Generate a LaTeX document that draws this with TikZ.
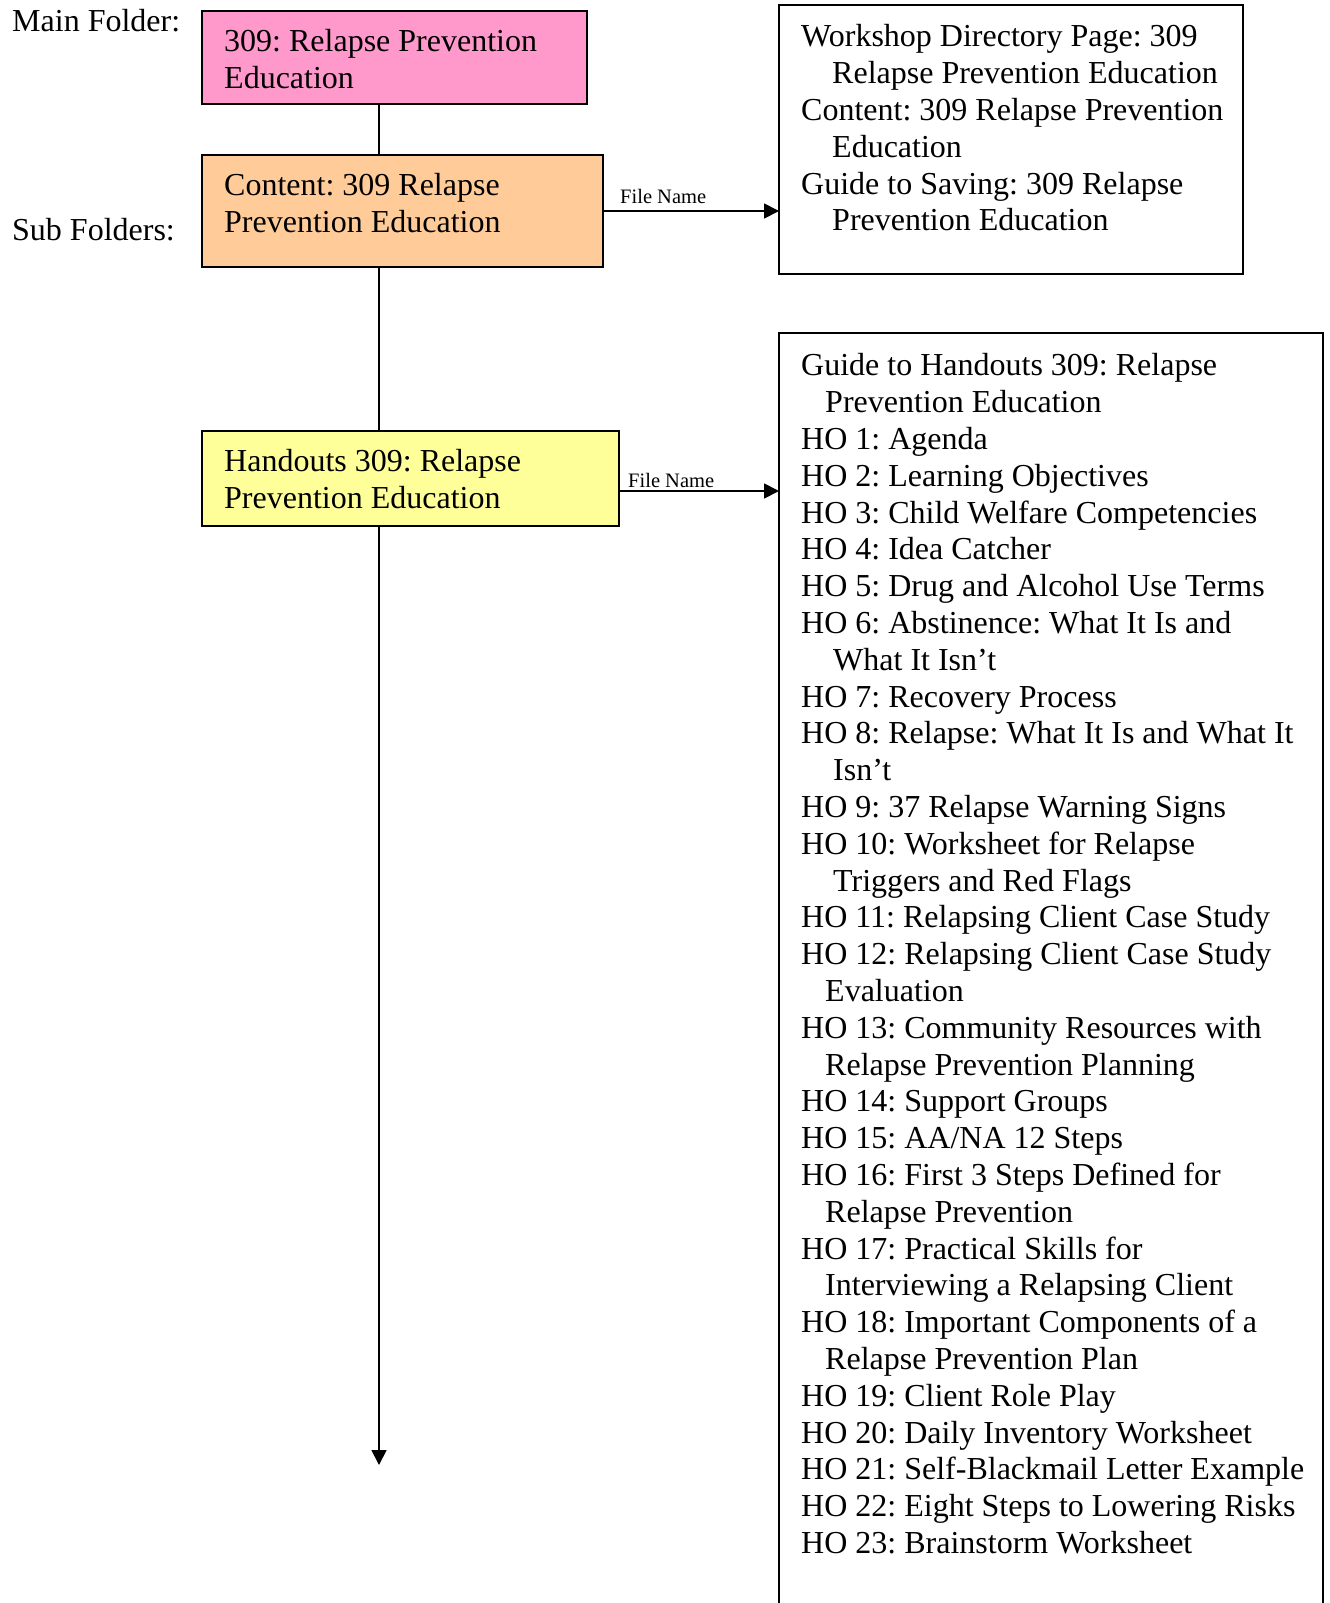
\documentclass[tikz,border=0pt]{standalone}
\usepackage{fontspec}
\setmainfont{Liberation Serif}
\usetikzlibrary{arrows.meta}
\definecolor{pinkfill}{HTML}{FF99CC}
\definecolor{orangefill}{HTML}{FFCC99}
\definecolor{yellowfill}{HTML}{FFFF99}
\newcommand{\ind}[1]{\hspace*{#1pt}}
\frenchspacing
\begin{document}
\begin{tikzpicture}[x=1pt,y=-1pt,
  box/.style={draw=black, line width=1.8pt, anchor=north west, inner sep=0pt, outer sep=0pt},
  txt/.style={anchor=north west, inner sep=0pt, align=left, font=\fontsize{32}{36.8}\selectfont\frenchspacing, execute at begin node=\strut},
  lbl/.style={anchor=base west, inner sep=0pt, font=\fontsize{20.5}{24}\selectfont},
  conn/.style={line width=1.8pt},
  arrowc/.style={line width=1.8pt, -{Triangle[length=15pt,width=15pt]}}]
\useasboundingbox (0,0) rectangle (1330,1603);
\clip (0,0) rectangle (1330,1603);
% side labels
\node[txt] (mainlbl) at (12,5.24) {Main Folder:};
\node[txt] (sublbl) at (12,214.2) {Sub Folders:};
% boxes
\node[box, fill=pinkfill, minimum width=385pt, minimum height=93pt] (mainbox) at (202,11) {};
\node[box, fill=orangefill, minimum width=401pt, minimum height=112pt] (contentbox) at (202,155) {};
\node[box, fill=yellowfill, minimum width=417pt, minimum height=95pt] (handbox) at (202,431) {};
\node[box, fill=white, minimum width=464pt, minimum height=269pt] (workbox) at (779,5) {};
\node[box, fill=white, minimum width=544pt, minimum height=1320pt] (hobox) at (779,333) {};
% box texts
\node[txt] (maintxt) at (224,29) {309: Relapse Prevention\\Education};
\node[txt] (contenttxt) at (224,173) {Content: 309 Relapse\\Prevention Education};
\node[txt] (handtxt) at (224,449) {Handouts 309: Relapse\\Prevention Education};
\node[txt] (worktxt) at (801,24.5) {Workshop Directory Page: 309\\
\ind{31}Relapse Prevention Education\\
Content: 309 Relapse Prevention\\
\ind{31}Education\\
Guide to Saving: 309 Relapse\\
\ind{31}Prevention Education};
\node[txt] (hotxt) at (801,353.5) {Guide to Handouts 309: Relapse\\
\ind{24}Prevention Education\\
HO 1: Agenda\\
HO 2: Learning Objectives\\
HO 3: Child Welfare Competencies\\
HO 4: Idea Catcher\\
HO 5: Drug and Alcohol Use Terms\\
HO 6: Abstinence: What It Is and\\
\ind{32}What It Isn’t\\
HO 7: Recovery Process\\
HO 8: Relapse: What It Is and What It\\
\ind{32}Isn’t\\
HO 9: 37 Relapse Warning Signs\\
HO 10: Worksheet for Relapse\\
\ind{32}Triggers and Red Flags\\
HO 11: Relapsing Client Case Study\\
HO 12: Relapsing Client Case Study\\
\ind{24}Evaluation\\
HO 13: Community Resources with\\
\ind{24}Relapse Prevention Planning\\
HO 14: Support Groups\\
HO 15: AA/NA 12 Steps\\
HO 16: First 3 Steps Defined for\\
\ind{24}Relapse Prevention\\
HO 17: Practical Skills for\\
\ind{24}Interviewing a Relapsing Client\\
HO 18: Important Components of a\\
\ind{24}Relapse Prevention Plan\\
HO 19: Client Role Play\\
HO 20: Daily Inventory Worksheet\\
HO 21: Self-Blackmail Letter Example\\
HO 22: Eight Steps to Lowering Risks\\
HO 23: Brainstorm Worksheet};
% connectors
\coordinate (spine) at (379,0);
\coordinate (row1) at (0,211);
\coordinate (row2) at (0,491);
\coordinate (spineend) at (379,1465);
\draw[conn] (spine |- mainbox.south) -- (spine |- contentbox.north);
\draw[conn] (spine |- contentbox.south) -- (spine |- handbox.north);
\draw[arrowc] (spine |- handbox.south) -- (spineend);
\draw[arrowc] (contentbox.east |- row1) -- (workbox.west |- row1);
\draw[arrowc] (handbox.east |- row2) -- (hobox.west |- row2);
\node[lbl] (fn1) at (620,203) {File Name};
\node[lbl] (fn2) at (628,487) {File Name};
\end{tikzpicture}
\end{document}
